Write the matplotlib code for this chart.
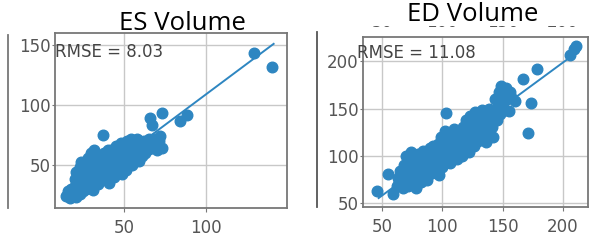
import numpy as np
import matplotlib.pyplot as plt
from matplotlib.lines import Line2D
from matplotlib.patches import Rectangle

# ES volume: (true, predicted)
es_x = [15, 16, 17, 18, 18, 19, 20, 20, 20, 21, 21, 22, 22, 23, 23, 24, 24, 24, 25, 25,
        26, 26, 27, 27, 28, 28, 28, 29, 30, 30, 30, 31, 31, 32, 32, 33, 33, 34, 34, 35,
        35, 36, 37, 37, 38, 38, 39, 40, 40, 41, 42, 42, 43, 44, 44, 45, 46, 46, 47, 48,
        49, 50, 50, 51, 52, 53, 54, 55, 56, 57, 58, 59, 60, 60, 61, 62, 63, 64, 65, 65,
        66, 67, 68, 70, 71, 72, 73, 73, 84, 88, 129, 140,
        40, 45, 48, 52, 56, 58, 62, 66, 68]
es_y = [24, 28, 22, 26, 30, 24, 27, 32, 38, 23, 44, 29, 35, 26, 48, 31, 38, 52, 28, 42,
        33, 45, 30, 47, 36, 52, 56, 33, 40, 45, 60, 29, 50, 37, 62, 43, 56, 34, 58, 48,
        40, 53, 75, 38, 45, 60, 50, 42, 56, 35, 47, 62, 52, 40, 58, 66, 48, 44, 55, 62,
        42, 50, 58, 46, 65, 54, 72, 50, 60, 56, 66, 53, 62, 70, 57, 64, 60, 68, 72, 63,
        89, 83, 66, 62, 70, 74, 93, 64, 87, 92, 143, 132,
        62, 64, 68, 70, 68, 72, 70, 70, 72]
es_line_x = [15, 141]
es_line_y = [22, 151]

# ED volume
ed_x = [46, 55, 59, 62, 64, 65, 66, 67, 68, 69, 70, 70, 71, 72, 72, 72, 73, 74, 74, 75,
        75, 76, 77, 78, 78, 79, 80, 80, 81, 82, 82, 83, 84, 85, 86, 86, 87, 88, 89, 90,
        90, 91, 92, 93, 94, 95, 96, 97, 98, 99, 100, 100, 101, 102, 103, 103, 104, 105,
        106, 107, 108, 109, 110, 110, 111, 112, 113, 114, 115, 116, 117, 118, 119, 120,
        120, 121, 122, 123, 124, 125, 126, 127, 128, 129, 130, 131, 132, 133, 134, 135,
        136, 137, 138, 139, 140, 141, 142, 143, 144, 145, 146, 147, 148, 149, 150, 151,
        152, 153, 154, 155, 156, 157, 160, 167, 171, 174, 179, 206, 209, 211,
        63, 68, 76, 84, 92, 97]
ed_y = [63, 81, 59, 68, 72, 84, 76, 66, 70, 80, 74, 100, 68, 85, 78, 96, 92, 72, 104, 100,
        88, 80, 95, 76, 66, 90, 102, 84, 72, 96, 72, 88, 105, 80, 92, 98, 74, 100, 86, 108,
        94, 82, 98, 90, 104, 86, 112, 96, 92, 120, 102, 88, 110, 126, 145, 96, 116, 106,
        92, 122, 100, 112, 128, 104, 118, 96, 108, 124, 114, 100, 130, 118, 106, 138,
        126, 112, 104, 142, 120, 132, 110, 146, 124, 136, 116, 140, 128, 148, 120, 134,
        114, 142, 126, 150, 136, 130, 120, 146, 160, 138, 152, 168, 144, 174, 156, 166,
        148, 172, 160, 147, 168, 162, 158, 181, 124, 156, 192, 207, 213, 216,
        76, 90, 94, 86, 110, 80]
ed_line_x = [47, 211]
ed_line_y = [55, 209]

es_ticks = [50, 100]
es_yticks = [50, 100, 150]
ed_ticks = [50, 100, 150, 200]
ed_yticks = [50, 100, 150, 200]

blue = '#2e86c1'
grey = '#555555'

fig = plt.figure(figsize=(5.99, 2.44), dpi=100)
ax1 = fig.add_axes([0.0918, 0.1475, 0.387, 0.717])
ax2 = fig.add_axes([0.606, 0.1516, 0.3756, 0.697])

panels = [
    (ax1, es_x, es_y, es_line_x, es_line_y, es_ticks, es_yticks, (8, 149), (14, 160),
     'RMSE = 8.03', 0.0, 0.891),
    (ax2, ed_x, ed_y, ed_line_x, ed_line_y, ed_ticks, ed_yticks, (34, 221), (45.5, 226),
     'RMSE = 11.08', -0.028, 0.904),
]
for ax, x, y, lx, ly, xt, yt, xl, yl, txt, tx, ty in panels:
    ax.scatter(x, y, s=58, color=blue, zorder=3)
    ax.plot(lx, ly, color=blue, lw=1.4, zorder=3)
    ax.set_xlim(xl)
    ax.set_ylim(yl)
    ax.set_xticks(xt)
    ax.set_yticks(yt)
    ax.grid(True, color='#c8c8c8', lw=1)
    ax.set_axisbelow(True)
    for s in ax.spines.values():
        s.set_color('#777777')
        s.set_linewidth(1.3)
    ax.tick_params(axis='y', length=2, pad=1, labelsize=12, labelcolor=grey, color='#777777')
    ax.tick_params(axis='x', length=3, pad=5, labelsize=12, labelcolor=grey, color='#777777')
    ax.text(tx, ty, txt, transform=ax.transAxes, fontsize=12, color='#444444',
            va='center', ha='left', zorder=5)

# leftover top labels of a panel above, cut off by the crop
top = ax2.secondary_xaxis('top')
top.set_xticks(ed_ticks)
top.tick_params(length=0, pad=4.5, labelsize=12, labelcolor=grey)
top.spines['top'].set_visible(False)
fig.patches.append(Rectangle((0.56, 0.893), 0.44, 0.107, transform=fig.transFigure,
                             facecolor='white', edgecolor='none', zorder=1))

# edges of neighbouring panels
fig.add_artist(Line2D([0.0134, 0.0134], [0.148, 0.857], color='#777777', lw=1.3))
fig.add_artist(Line2D([0.529, 0.529], [0.152, 0.869], color='#555555', lw=1.3))

fig.text(0.304, 0.905, 'ES Volume', fontsize=18.5, family='Open Sans', ha='center',
         va='center', zorder=2)
fig.text(0.789, 0.94, 'ED Volume', fontsize=18.5, family='Open Sans', ha='center',
         va='center', zorder=2)

fig.savefig('out.png', dpi=100)
